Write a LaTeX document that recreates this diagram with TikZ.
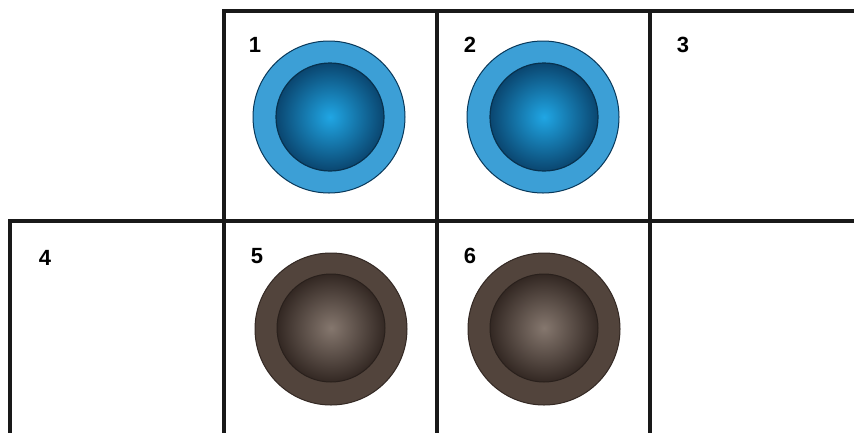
\documentclass[tikz,border=0pt]{standalone}
\usepackage{fontspec}
\setmainfont{Liberation Sans}
\definecolor{ringblue}{HTML}{3C9FD6}
\definecolor{darkblue}{HTML}{0A4670}
\definecolor{litblue}{HTML}{20A6E4}
\definecolor{ringbrown}{HTML}{52443C}
\definecolor{darkbrown}{HTML}{332823}
\definecolor{litbrown}{HTML}{85776E}
\begin{document}
\begin{tikzpicture}[x=1pt,y=-1pt,
  gridline/.style={line width=3.2pt, draw=black!90},
  lbl/.style={anchor=center, font=\bfseries\fontsize{22}{22}\selectfont, inner sep=0pt},
  blueouter/.style={circle, minimum size=152pt, inner sep=0pt, fill=ringblue, draw=darkblue!80!black, line width=1pt},
  blueinner/.style={circle, minimum size=108pt, inner sep=0pt, inner color=litblue, outer color=darkblue, draw=darkblue!70!black, line width=1.2pt},
  brownouter/.style={circle, minimum size=152pt, inner sep=0pt, fill=ringbrown, draw=darkbrown, line width=1pt},
  browninner/.style={circle, minimum size=108pt, inner sep=0pt, inner color=litbrown, outer color=darkbrown, draw=darkbrown!80!black, line width=1pt}]
\useasboundingbox (0,0) rectangle (854,432);
\clip (0,0) rectangle (854,432);
\fill[white] (0,0) rectangle (854,432);
% grid
\draw[gridline] (224,445) -- (224,11) -- (870,11);
\draw[gridline] (10,445) -- (10,221) -- (870,221);
\draw[gridline] (437,11) -- (437,445);
\draw[gridline] (650,11) -- (650,445);
% circles
\node[blueouter] (c1o) at (329,117) {};
\node[blueinner] (c1i) at (330,117) {};
\node[blueouter] (c2o) at (543,117) {};
\node[blueinner] (c2i) at (544,117) {};
\node[brownouter] (c5o) at (331,329) {};
\node[browninner] (c5i) at (331,328) {};
\node[brownouter] (c6o) at (544,329) {};
\node[browninner] (c6i) at (544,328) {};
% labels
\node[lbl] (l1) at (255,45) {1};
\node[lbl] (l2) at (470,45) {2};
\node[lbl] (l3) at (683,45) {3};
\node[lbl] (l4) at (45,258) {4};
\node[lbl] (l5) at (257,256) {5};
\node[lbl] (l6) at (470,256) {6};
\end{tikzpicture}
\end{document}
